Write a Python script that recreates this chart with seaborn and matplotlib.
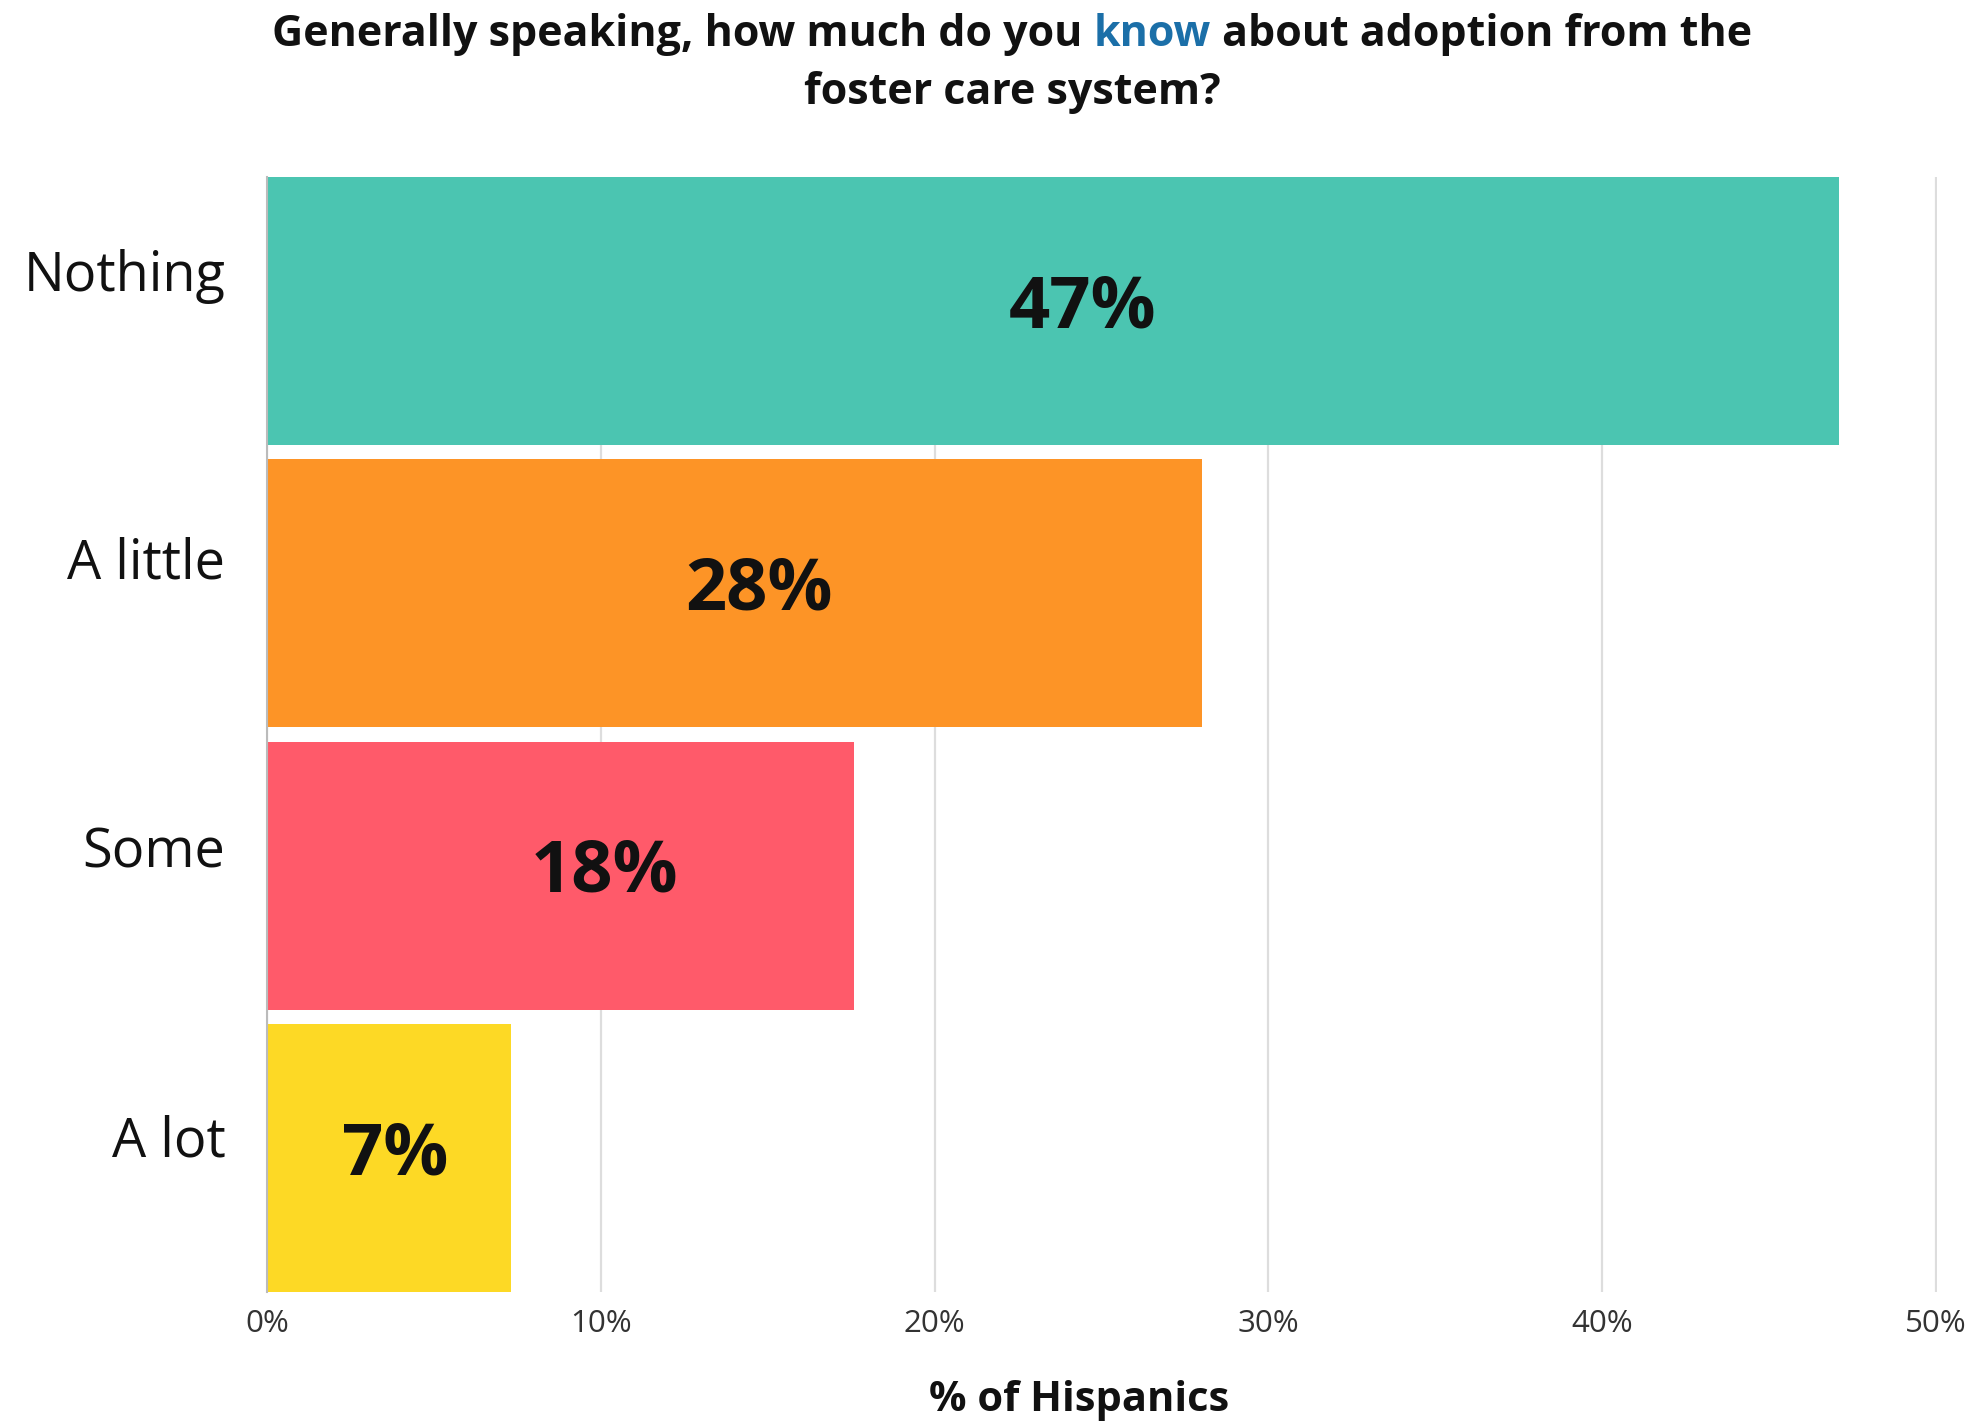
import matplotlib
matplotlib.use("Agg")
import matplotlib.pyplot as plt
import matplotlib.transforms as mtransforms
import seaborn as sns
import pandas as pd

# Survey answers and shares (% of Hispanics)
categories = ["Nothing", "A little", "Some", "A lot"]
shares = [47.1, 28.0, 17.6, 7.3]
bar_colors = ["#4BC5B1", "#FD9426", "#FF5A6A", "#FDD925"]
x_ticks = [0, 10, 20, 30, 40, 50]
x_tick_labels = ["0%", "10%", "20%", "30%", "40%", "50%"]

title_parts = [
    ("Generally speaking, how much do you ", "#111111"),
    ("know", "#1B6FA8"),
    (" about adoption from the", "#111111"),
]
title_line2 = "foster care system?"
x_label = "% of Hispanics"

sns.set_theme(style="white")
plt.rcParams["font.family"] = ["Open Sans", "DejaVu Sans"]

df = pd.DataFrame({"answer": categories, "share": shares})

fig = plt.figure(figsize=(19.78, 14.22), dpi=100)
ax = fig.add_axes([0.135, 0.0914, 0.8445, 0.7841])

sns.barplot(
    data=df, y="answer", x="share", hue="answer",
    palette=dict(zip(categories, bar_colors)),
    order=categories, hue_order=categories,
    width=0.95, legend=False, ax=ax, zorder=3,
    saturation=1.0, linewidth=0,
)

ax.set_xlim(0, 50.05)
ax.set_ylim(3.475, -0.475)
ax.set_xticks(x_ticks)
ax.set_xticklabels(x_tick_labels, fontsize=22.5, color="#333333")
ax.tick_params(axis="x", length=0, pad=12)
ax.tick_params(axis="y", length=0, pad=30)
# category names sit above the bar centres, a bit more so near the top
lifts_px = [41, 36, 29, 22]
for lbl, lift_px in zip(ax.get_yticklabels(), lifts_px):
    lbl.set_fontsize(39)
    lbl.set_color("#111111")
    shift = mtransforms.ScaledTranslation(0, lift_px / 100, fig.dpi_scale_trans)
    lbl.set_transform(lbl.get_transform() + shift)

ax.grid(axis="x", color="#DDDDDD", linewidth=1.6, zorder=0)
ax.grid(axis="y", visible=False)
for side in ["top", "right", "bottom"]:
    ax.spines[side].set_visible(False)
ax.spines["left"].set_color("#BBBBBB")
ax.spines["left"].set_linewidth(1.5)
ax.spines["left"].set_zorder(4)

ax.set_ylabel("")
ax.set_xlabel(x_label, fontsize=30, fontweight="bold", color="#111111", va="center")
ax.xaxis.set_label_coords(0.486, -0.0975)

# Value labels on each bar
label_nudge = [0.9, 0.75, 1.3, 0.2]
for patch, val, nudge in zip(ax.patches, shares, label_nudge):
    cx = patch.get_x() + patch.get_width() / 2 + nudge
    cy = patch.get_y() + patch.get_height() / 2 - 0.01
    ax.text(cx, cy, f"{val:.0f}%", ha="center", va="center",
            fontsize=52, fontweight="bold", color="#111111", zorder=5)

# Two-line title with one highlighted word
renderer = fig.canvas.get_renderer()
title_y1 = 1 - 34 / 1422
title_y2 = 1 - 93 / 1422
title_cx = 1012 / 1978
texts = []
for s, c in title_parts:
    t = fig.text(0, title_y1, s, fontsize=31, fontweight="bold", color=c,
                 ha="left", va="center")
    texts.append(t)
widths = [t.get_window_extent(renderer).width for t in texts]
fig_w = fig.get_figwidth() * fig.dpi
x0 = title_cx * fig_w - sum(widths) / 2
for t, w in zip(texts, widths):
    t.set_x(x0 / fig_w)
    x0 += w
fig.text(title_cx, title_y2, title_line2, fontsize=31, fontweight="bold",
         color="#111111", ha="center", va="center")

fig.savefig("out.png", dpi=100, facecolor="white")
